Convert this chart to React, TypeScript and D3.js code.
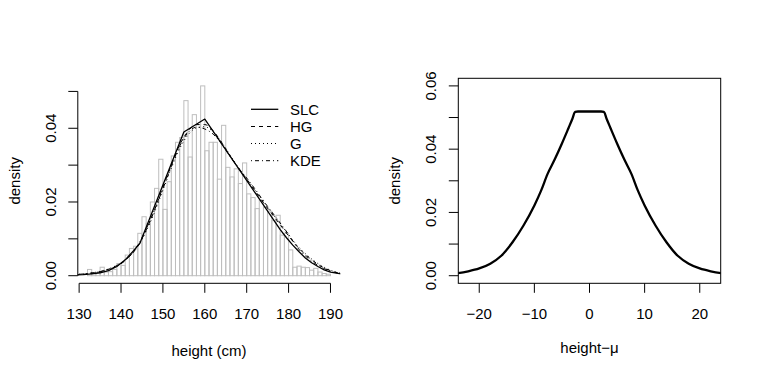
import React from "react";
import * as d3 from "d3";

// histogram of heights: 1 cm bins, first bin starts at 132
const binStart = 132;
const binDensity = [
  0.0017, 0.0006, 0.0008, 0.0023, 0.001, 0.0011, 0.0017, 0.0033, 0.0028, 0.0056,
  0.0074, 0.008, 0.0115, 0.016, 0.0142, 0.02, 0.0237, 0.0316, 0.018, 0.0255,
  0.0325, 0.0362, 0.0375, 0.0475, 0.0322, 0.0437, 0.041, 0.0515, 0.0339, 0.0362,
  0.0362, 0.0262, 0.0408, 0.0294, 0.0268, 0.029, 0.025, 0.0306, 0.0222, 0.0212,
  0.0182, 0.0205, 0.0185, 0.0175, 0.015, 0.0164, 0.011, 0.0115, 0.007, 0.0023,
  0.0026, 0.0023, 0.0022, 0.0015, 0.002, 0.001, 0.0006, 0.0004,
];

// SLC fit (kinked near the mode, straight pieces on each side)
const slcX = [129, 131, 133, 135, 137, 139, 141, 143, 144.5, 155, 160, 176.5, 178, 179.5, 181, 182.5, 184, 185.5, 187, 188.5, 190, 193];
const slcY = [0.0002, 0.0003, 0.0005, 0.0008, 0.0014, 0.0025, 0.0043, 0.0068, 0.0088, 0.039, 0.0425, 0.015, 0.0125, 0.0103, 0.0083, 0.0065, 0.0048, 0.0035, 0.0025, 0.0016, 0.001, 0.0004];

// smooth fits on a common grid
const fitX = [129, 132, 135, 138, 141, 144, 147, 150, 152, 154, 156, 158, 160, 162, 164, 166, 168, 170, 172, 174, 176, 178, 180, 182, 185, 188, 191, 194];
const hgY = [0.0002, 0.0005, 0.0011, 0.0022, 0.0042, 0.008, 0.015, 0.024, 0.03, 0.0355, 0.0392, 0.041, 0.041, 0.0393, 0.0362, 0.0326, 0.0292, 0.0262, 0.023, 0.0198, 0.0168, 0.0138, 0.0108, 0.008, 0.0048, 0.0024, 0.001, 0.0004];
const gY = [0.0003, 0.0006, 0.0012, 0.0023, 0.0043, 0.0079, 0.0145, 0.0232, 0.0292, 0.0345, 0.0382, 0.0401, 0.0404, 0.039, 0.0362, 0.0328, 0.0294, 0.0263, 0.0232, 0.0201, 0.0171, 0.0141, 0.0111, 0.0083, 0.005, 0.0026, 0.0011, 0.0004];
const kdeY = [0.0003, 0.0006, 0.0011, 0.0021, 0.0041, 0.0082, 0.0152, 0.0236, 0.0296, 0.0352, 0.0388, 0.0403, 0.0398, 0.0384, 0.0358, 0.0324, 0.0293, 0.0265, 0.0235, 0.0203, 0.0173, 0.0143, 0.0112, 0.0078, 0.0044, 0.0022, 0.0009, 0.0003];

// right panel: density of height - mu
const devX = [-25, -24, -22, -20, -18, -16, -14, -12, -10, -8.8, -7.6, -6.3, -5, -3.8, -3.1, -2.6, -2.1, 0, 2.1, 2.6, 3.1, 3.8, 5, 6.3, 7.6, 8.8, 10, 12, 14, 16, 18, 20, 22, 24, 25];
const devY = [0.0006, 0.0008, 0.0014, 0.0023, 0.0038, 0.0063, 0.0105, 0.0158, 0.0222, 0.0268, 0.0322, 0.0368, 0.0418, 0.0467, 0.0496, 0.0518, 0.0519, 0.0519, 0.0519, 0.0518, 0.0496, 0.0467, 0.0418, 0.0368, 0.0322, 0.0268, 0.0222, 0.0158, 0.0105, 0.0063, 0.0038, 0.0023, 0.0014, 0.0008, 0.0006];

const leftXTicks = [130, 140, 150, 160, 170, 180, 190];
const leftYTicks = [0, 0.01, 0.02, 0.03, 0.04, 0.05];
const leftYLabels = ["0.00", "0.02", "0.04"];
const rightXTicks = [-20, -10, 0, 10, 20];
const rightYTicks = [0, 0.01, 0.02, 0.03, 0.04, 0.05, 0.06];
const rightYLabels = ["0.00", "0.02", "0.04", "0.06"];
const legendNames = ["SLC", "HG", "G", "KDE"];
const legendDash = ["", "4,4", "1,3", "1,3,4,3"];

const W = 761;
const H = 381;
const top = 78.3;
const bottom = 283.3;
const tick = 9.5;
const font = "'Liberation Sans', Arial, Helvetica, sans-serif";

export default function App() {
  const xL = d3.scaleLinear().domain([129.68, 192.32]).range([77.8, 340.2]);
  const yL = d3.scaleLinear().domain([-0.00206, 0.05356]).range([bottom, top]);
  const xR = d3.scaleLinear().domain([-23.8, 23.8]).range([458.3, 720.7]);
  const yR = d3.scaleLinear().domain([-0.0024, 0.0624]).range([bottom, top]);

  const smoothL = d3
    .line<[number, number]>()
    .x(d => xL(d[0]))
    .y(d => yL(d[1]))
    .curve(d3.curveMonotoneX);
  const straightL = d3
    .line<[number, number]>()
    .x(d => xL(d[0]))
    .y(d => yL(d[1]));
  const lineR = d3
    .line<[number, number]>()
    .x(d => xR(d[0]))
    .y(d => yR(d[1]))
    .curve(d3.curveMonotoneX);

  const zip = (xs: number[], ys: number[]) => xs.map((x, i) => [x, ys[i]] as [number, number]);

  const fits = [
    { d: straightL(zip(slcX, slcY)), dash: "", w: 1.3 },
    { d: smoothL(zip(fitX, hgY)), dash: "4,4", w: 1 },
    { d: smoothL(zip(fitX, gY)), dash: "1,3", w: 1 },
    { d: smoothL(zip(fitX, kdeY)), dash: "1,3,4,3", w: 1 },
  ];

  const legendRows = [109.3, 126.5, 143.5, 160.7];

  return (
    <div style={{ position: "absolute", left: 0, top: 0 }}>
      <svg width={W} height={H} style={{ display: "block", background: "#fff" }} fontFamily={font} fontSize={15}>
        <defs>
          <clipPath id="clipL">
            <rect x={77.8} y={top} width={340.2 - 77.8} height={bottom - top} />
          </clipPath>
          <clipPath id="clipR">
            <rect x={458.3} y={top} width={720.7 - 458.3} height={bottom - top} />
          </clipPath>
        </defs>

        {/* left panel: histogram with fitted densities */}
        <g>
          {binDensity.map((v, i) => (
            <rect
              key={i}
              x={xL(binStart + i)}
              y={yL(v)}
              width={xL(binStart + i + 1) - xL(binStart + i)}
              height={yL(0) - yL(v)}
              fill="none"
              stroke="#bebebe"
              strokeWidth={1}
            />
          ))}
          <g clipPath="url(#clipL)">
            {fits.map((f, i) => (
              <path key={i} d={f.d || ""} fill="none" stroke="#000" strokeWidth={f.w} strokeDasharray={f.dash} strokeLinejoin="round" />
            ))}
          </g>

          {/* x axis */}
          <line x1={xL(130)} x2={xL(190)} y1={bottom} y2={bottom} stroke="#000" />
          {leftXTicks.map(t => (
            <g key={t}>
              <line x1={xL(t)} x2={xL(t)} y1={bottom} y2={bottom + tick} stroke="#000" />
              <text x={xL(t)} y={318.5} textAnchor="middle">{t}</text>
            </g>
          ))}
          <text x={209} y={356} textAnchor="middle">height (cm)</text>

          {/* y axis */}
          <line x1={77.8} x2={77.8} y1={yL(0)} y2={yL(0.05)} stroke="#000" />
          {leftYTicks.map(t => (
            <line key={t} x1={77.8} x2={77.8 - tick} y1={yL(t)} y2={yL(t)} stroke="#000" />
          ))}
          {leftYLabels.map(l => (
            <text key={l} transform={`translate(55.5,${yL(+l)}) rotate(-90)`} textAnchor="middle">{l}</text>
          ))}
          <text transform={`translate(19.5,${(top + bottom) / 2}) rotate(-90)`} textAnchor="middle">density</text>

          {/* legend */}
          {legendNames.map((n, i) => (
            <g key={n}>
              <line x1={251} x2={278.3} y1={legendRows[i]} y2={legendRows[i]} stroke="#000" strokeWidth={i === 0 ? 1.3 : 1} strokeDasharray={legendDash[i]} />
              <text x={290} y={legendRows[i]} dy="0.35em">{n}</text>
            </g>
          ))}
        </g>

        {/* right panel: density of height - mu */}
        <g>
          <rect x={458.3} y={top} width={720.7 - 458.3} height={bottom - top} fill="none" stroke="#000" />
          <g clipPath="url(#clipR)">
            <path d={lineR(zip(devX, devY)) || ""} fill="none" stroke="#000" strokeWidth={2.3} strokeLinejoin="round" />
          </g>
          {rightXTicks.map(t => (
            <g key={t}>
              <line x1={xR(t)} x2={xR(t)} y1={bottom} y2={bottom + tick} stroke="#000" />
              <text x={xR(t)} y={318.5} textAnchor="middle">{t < 0 ? `\u2212${-t}` : t}</text>
            </g>
          ))}
          <text x={589.5} y={352.5} textAnchor="middle">height{"\u2212"}{"\u03bc"}</text>
          {rightYTicks.map(t => (
            <line key={t} x1={458.3} x2={458.3 - tick} y1={yR(t)} y2={yR(t)} stroke="#000" />
          ))}
          {rightYLabels.map(l => (
            <text key={l} transform={`translate(435.5,${yR(+l)}) rotate(-90)`} textAnchor="middle">{l}</text>
          ))}
          <text transform={`translate(399.5,${(top + bottom) / 2}) rotate(-90)`} textAnchor="middle">density</text>
        </g>
      </svg>
    </div>
  );
}
